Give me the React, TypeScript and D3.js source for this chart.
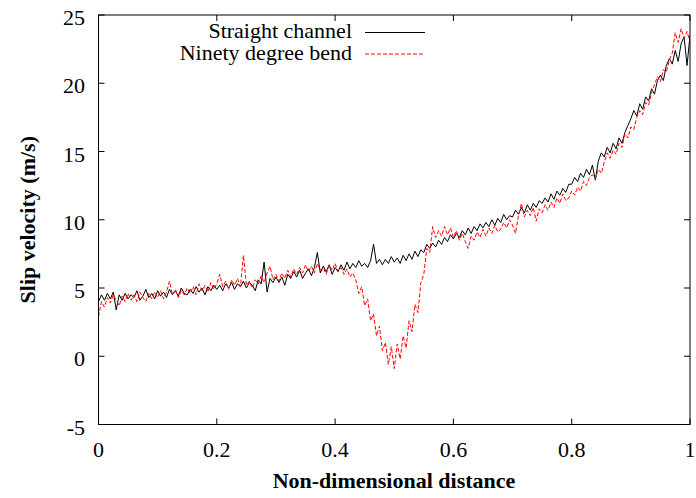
import React from "react";
import * as d3 from "d3";

// Non-dimensional distance grid (201 samples from 0 to 1)
const distance: number[] = d3.range(201).map((i) => i / 200);

const straightChannel: number[] = [
  4.0, 4.5, 4.1, 4.6, 4.2, 4.7, 3.4, 4.5, 4.1, 4.6, 4.2, 4.5, 4.3, 4.8, 4.1, 4.4, 4.9, 4.3, 4.6, 4.2,
  4.8, 4.4, 4.7, 4.3, 4.9, 4.5, 4.8, 4.4, 5.0, 4.6, 4.5, 4.9, 4.6, 5.1, 4.7, 5.0, 4.5, 5.1, 4.8, 5.2,
  4.9, 5.2, 4.8, 5.3, 5.0, 5.4, 4.9, 5.3, 5.1, 5.5, 5.0, 5.4, 5.2, 4.8, 5.6, 5.3, 6.9, 4.7, 5.7, 5.4,
  5.8, 5.4, 5.8, 5.2, 6.0, 5.7, 6.2, 5.8, 6.3, 5.7, 6.1, 6.4, 5.9, 6.5, 7.6, 6.1, 6.6, 6.2, 6.7, 6.0,
  6.5, 6.2, 6.7, 6.3, 6.9, 6.4, 6.8, 6.5, 7.0, 6.6, 6.8, 6.5, 7.0, 8.2, 6.8, 7.1, 6.7, 7.1, 6.8, 7.3,
  6.9, 7.2, 6.8, 7.4, 7.0, 7.5, 7.1, 7.7, 7.3, 7.8, 7.6, 8.2, 7.9, 8.3, 8.0, 8.5, 8.2, 8.7, 8.4, 8.9,
  8.6, 9.0, 8.7, 9.2, 8.9, 9.4, 9.0, 9.5, 9.2, 9.7, 9.4, 9.8, 9.5, 10.0, 9.6, 10.1, 9.8, 10.4, 10.0, 10.3,
  10.2, 10.7, 10.4, 10.9, 10.5, 11.1, 10.7, 11.2, 10.9, 11.4, 11.2, 11.6, 11.3, 11.9, 11.5, 12.1, 11.8, 12.3, 12.0, 12.6,
  12.6, 13.1, 12.8, 13.4, 13.1, 13.7, 13.3, 14.0, 12.9, 14.3, 14.9, 14.6, 15.3, 14.9, 15.6, 15.2, 16.0, 15.6, 16.4, 16.9,
  17.4, 18.0, 17.6, 18.5, 18.1, 19.0, 18.7, 19.6, 19.2, 20.2, 20.6, 20.2, 21.3, 21.8, 21.4, 22.4, 21.6, 22.9, 23.4, 21.3,
  23.5,
];

const ninetyDegreeBend: number[] = [
  2.9, 4.0, 3.6, 4.3, 3.9, 4.5, 4.1, 3.7, 4.4, 4.0, 4.6, 4.1, 4.5, 4.0, 4.7, 4.3, 4.0, 4.6, 4.2, 4.7,
  4.3, 4.8, 4.2, 4.7, 5.5, 4.5, 4.9, 4.3, 4.8, 4.5, 5.0, 4.6, 5.1, 4.5, 5.3, 4.8, 5.2, 4.7, 5.4, 4.9,
  5.3, 6.0, 5.1, 5.5, 4.9, 5.6, 5.2, 5.7, 5.1, 7.4, 5.2, 5.5, 5.0, 5.6, 5.3, 5.9, 5.4, 6.1, 6.6, 5.6,
  6.0, 5.5, 6.1, 5.7, 6.3, 5.8, 6.4, 6.0, 6.5, 6.1, 6.7, 6.2, 6.6, 6.1, 6.8, 6.3, 6.5, 6.0, 6.7, 6.3,
  6.8, 6.2, 6.5, 6.0, 6.4, 5.8, 6.1, 5.6, 4.6, 5.1, 3.7, 4.2, 2.6, 3.1, 1.5, 2.2, 0.4, 1.0, -0.6, 0.7,
  -0.9, 0.9, -0.2, 1.5, 0.6, 2.6, 1.8, 3.8, 3.2, 5.4, 6.0, 7.9, 7.6, 9.5, 8.7, 9.2, 8.8, 9.5, 8.9, 9.4,
  8.7, 9.2, 8.5, 9.0, 8.4, 7.9, 8.8, 8.5, 9.1, 8.7, 9.3, 8.8, 9.4, 9.0, 9.6, 9.1, 9.3, 9.8, 9.4, 10.0,
  9.6, 9.0, 10.3, 11.2, 10.2, 10.7, 10.3, 10.9, 9.9, 10.8, 10.5, 11.1, 10.7, 11.3, 10.9, 11.6, 11.2, 11.9, 11.4, 11.6,
  12.1, 11.8, 12.4, 12.1, 12.8, 12.5, 13.1, 13.3, 13.0, 13.7, 13.4, 14.2, 14.9, 14.5, 15.1, 14.8, 15.6, 15.3, 16.3, 16.0,
  16.8, 16.6, 17.5, 18.0, 17.7, 18.6, 18.4, 19.3, 19.9, 20.5, 20.1, 21.0, 20.8, 21.7, 22.2, 23.7, 23.0, 24.0, 23.3, 23.8,
  23.0,
];

const xTicks: number[] = [0, 0.2, 0.4, 0.6, 0.8, 1];
const yTicks: number[] = [-5, 0, 5, 10, 15, 20, 25];

const seriesNames: string[] = ["Straight channel", "Ninety degree bend"];

const W = 696;
const H = 498;
const M = { left: 98.5, right: 690, top: 15, bottom: 424.5 };
const FONT = '"Liberation Serif", Tinos, "Times New Roman", Times, "DejaVu Serif", serif';
const TICK = 6;

const txt = (size: number, bold = false): React.CSSProperties => ({
  fontFamily: FONT,
  fontSize: size,
  fontWeight: bold ? 700 : 400,
});

export default function App() {
  const x = d3.scaleLinear().domain([0, 1]).range([M.left, M.right]);
  const y = d3.scaleLinear().domain([-5, 25]).range([M.bottom, M.top]);

  const line = d3
    .line<number>()
    .x((_, i) => x(distance[i]))
    .y((d) => y(d));

  const xFmt = (v: number) => (v === 0 || v === 1 ? String(v) : v.toFixed(1));

  return (
    <svg
      width={W}
      height={H}
      style={{ position: "absolute", left: 0, top: 0, background: "#fff" }}
    >
      <rect x={0} y={0} width={W} height={H} fill="#fff" />
      <defs>
        <clipPath id="plotclip">
          <rect x={M.left} y={M.top} width={M.right - M.left} height={M.bottom - M.top} />
        </clipPath>
      </defs>

      {/* ticks */}
      {xTicks.map((t) => (
        <g key={"xt" + t}>
          <line x1={x(t)} x2={x(t)} y1={M.bottom} y2={M.bottom - TICK} stroke="#000" />
          <line x1={x(t)} x2={x(t)} y1={M.top} y2={M.top + TICK} stroke="#000" />
          <text x={x(t)} y={456.5} style={txt(22)} textAnchor="middle" fill="#000">
            {xFmt(t)}
          </text>
        </g>
      ))}
      {yTicks.map((t) => (
        <g key={"yt" + t}>
          <line x1={M.left} x2={M.left + TICK} y1={y(t)} y2={y(t)} stroke="#000" />
          <line x1={M.right} x2={M.right - TICK} y1={y(t)} y2={y(t)} stroke="#000" />
          <text x={85} y={y(t) + 10} style={txt(22)} textAnchor="end" fill="#000">
            {t}
          </text>
        </g>
      ))}

      {/* series */}
      <g clipPath="url(#plotclip)">
        <path d={line(straightChannel) || ""} fill="none" stroke="#000" strokeWidth={1} />
        <path
          d={line(ninetyDegreeBend) || ""}
          fill="none"
          stroke="#ff0000"
          strokeWidth={1}
          strokeDasharray="4,2"
        />
      </g>

      {/* frame */}
      <rect
        x={M.left}
        y={M.top}
        width={M.right - M.left}
        height={M.bottom - M.top}
        fill="none"
        stroke="#000"
        strokeWidth={1}
      />

      {/* legend */}
      <text x={352} y={38} style={txt(22)} textAnchor="end" fill="#000">
        {seriesNames[0]}
      </text>
      <line x1={365} x2={425} y1={32.5} y2={32.5} stroke="#000" strokeWidth={1} />
      <text x={352} y={59.5} style={txt(22)} textAnchor="end" fill="#000">
        {seriesNames[1]}
      </text>
      <line
        x1={365}
        x2={425}
        y1={54}
        y2={54}
        stroke="#ff0000"
        strokeWidth={1}
        strokeDasharray="4,2"
      />

      {/* axis titles */}
      <text x={394} y={487.5} style={txt(22, true)} textAnchor="middle" fill="#000">
        Non-dimensional distance
      </text>
      <text
        transform={`translate(35, ${(M.top + M.bottom) / 2}) rotate(-90)`}
        style={txt(22, true)}
        textAnchor="middle"
        fill="#000"
      >
        Slip velocity (m/s)
      </text>
    </svg>
  );
}
